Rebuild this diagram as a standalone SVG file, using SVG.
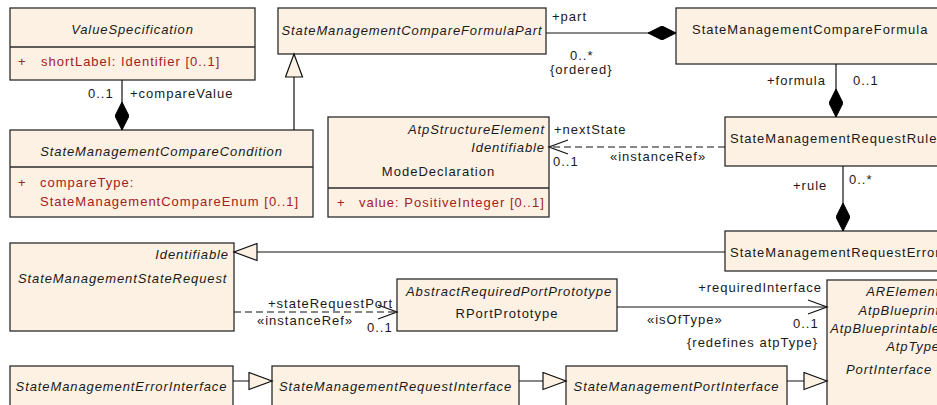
<svg xmlns="http://www.w3.org/2000/svg" width="937" height="405" viewBox="0 0 937 405">
<style>
.box{fill:#fcf1e3;stroke:#2b2b2b;stroke-width:1.3}
.sep{stroke:#2b2b2b;stroke-width:1.3}
.t{font-family:"Liberation Sans",Arial,sans-serif;font-size:13px;letter-spacing:1px;fill:#1a1a1a}
.i{font-style:italic;letter-spacing:0.9px}
.a{fill:#a5201d}
.m{text-anchor:middle}
.e{text-anchor:end}
.ln{stroke:#111;stroke-width:1.2;fill:none}
.dash{stroke-dasharray:7 4}
</style>
<defs>
<marker id="diamond" markerUnits="userSpaceOnUse" viewBox="0 0 28 14" refX="28" refY="7" markerWidth="28" markerHeight="14" orient="auto">
<path d="M0,7 L14,0 L28,7 L14,14 Z" fill="#000" stroke="#000" stroke-width="1"/>
</marker>
<marker id="open" markerUnits="userSpaceOnUse" viewBox="-1 -1 22 16" refX="19" refY="7" markerWidth="22" markerHeight="16" orient="auto">
<path d="M0,0 L19,7 L0,14" fill="none" stroke="#111" stroke-width="1.2"/>
</marker>
<marker id="tri" markerUnits="userSpaceOnUse" viewBox="-1 -1 26 19" refX="23" refY="8.5" markerWidth="26" markerHeight="19" orient="auto">
<path d="M0,0 L23,8.5 L0,17 Z" fill="#fcf1e3" stroke="#111" stroke-width="1.2"/>
</marker>
</defs>

<g id="ValueSpecification">
<rect class="box" x="10" y="8" width="245" height="72"/>
<line class="sep" x1="10" y1="47" x2="255" y2="47"/>
<text class="t i m" x="132.5" y="34">ValueSpecification</text>
<text class="t a" x="18" y="66">+</text>
<text class="t a" x="41" y="66">shortLabel: Identifier [0..1]</text>
</g>

<g id="StateManagementCompareFormulaPart">
<rect class="box" x="278" y="8" width="268" height="46"/>
<text class="t i m" x="412" y="35">StateManagementCompareFormulaPart</text>
</g>

<g id="StateManagementCompareFormula">
<rect class="box" x="676" y="8" width="280" height="56"/>
<text class="t" x="692" y="34">StateManagementCompareFormula</text>
</g>

<g id="StateManagementCompareCondition">
<rect class="box" x="10" y="130" width="303" height="87"/>
<line class="sep" x1="10" y1="167" x2="313" y2="167"/>
<text class="t i m" x="161.5" y="156">StateManagementCompareCondition</text>
<text class="t a" x="18" y="187">+</text>
<text class="t a" x="40" y="187">compareType:</text>
<text class="t a" x="40" y="206">StateManagementCompareEnum [0..1]</text>
</g>

<g id="ModeDeclaration">
<rect class="box" x="328" y="117" width="221" height="100"/>
<line class="sep" x1="328" y1="188" x2="549" y2="188"/>
<text class="t i e" x="545" y="134">AtpStructureElement</text>
<text class="t i e" x="545" y="152">Identifiable</text>
<text class="t m" x="438.5" y="176">ModeDeclaration</text>
<text class="t a" x="337" y="207">+</text>
<text class="t a" x="359" y="207">value: PositiveInteger [0..1]</text>
</g>

<g id="StateManagementRequestRule">
<rect class="box" x="725" y="117" width="230" height="49"/>
<text class="t" x="730" y="143">StateManagementRequestRule</text>
</g>

<g id="StateManagementRequestError">
<rect class="box" x="725" y="231" width="230" height="40"/>
<text class="t" x="730" y="257">StateManagementRequestError</text>
</g>

<g id="StateManagementStateRequest">
<rect class="box" x="10" y="243" width="224" height="88"/>
<text class="t i e" x="229" y="259">Identifiable</text>
<text class="t i" x="18" y="283">StateManagementStateRequest</text>
</g>

<g id="RPortPrototype">
<rect class="box" x="397" y="279" width="220" height="52"/>
<text class="t i m" x="509" y="296">AbstractRequiredPortPrototype</text>
<text class="t m" x="507" y="318">RPortPrototype</text>
</g>

<g id="PortInterface">
<rect class="box" x="827" y="280" width="130" height="140"/>
<text class="t i e" x="940" y="296">ARElement</text>
<text class="t i e" x="940" y="315">AtpBlueprint</text>
<text class="t i e" x="940" y="333">AtpBlueprintable</text>
<text class="t i e" x="940" y="351">AtpType</text>
<text class="t i" x="846" y="374">PortInterface</text>
</g>

<g id="StateManagementErrorInterface">
<rect class="box" x="10" y="366" width="223" height="50"/>
<text class="t i m" x="121.5" y="391">StateManagementErrorInterface</text>
</g>

<g id="StateManagementRequestInterface">
<rect class="box" x="272" y="366" width="247" height="50"/>
<text class="t i m" x="395.5" y="391">StateManagementRequestInterface</text>
</g>

<g id="StateManagementPortInterface">
<rect class="box" x="566" y="366" width="221" height="50"/>
<text class="t i m" x="676.5" y="391">StateManagementPortInterface</text>
</g>

<g id="connectors">
<path class="ln" d="M122,80 L122,130" marker-end="url(#diamond)"/>
<text class="t" x="88" y="98">0..1</text>
<text class="t" x="130" y="98">+compareValue</text>

<path class="ln" d="M294,130 L294,54" marker-end="url(#tri)"/>

<path class="ln" d="M546,33 L676,33" marker-end="url(#diamond)"/>
<text class="t" x="552" y="21">+part</text>
<text class="t" x="570" y="60">0..*</text>
<text class="t" x="550" y="74">{ordered}</text>

<path class="ln" d="M836,64 L836,117" marker-end="url(#diamond)"/>
<text class="t" x="767" y="85">+formula</text>
<text class="t" x="853" y="85">0..1</text>

<path class="ln dash" d="M725,147 L549,147" marker-end="url(#open)"/>
<text class="t" x="554" y="134">+nextState</text>
<text class="t" x="553" y="166">0..1</text>
<text class="t" x="610" y="161">«instanceRef»</text>

<path class="ln" d="M843,166 L843,231" marker-end="url(#diamond)"/>
<text class="t" x="793" y="190">+rule</text>
<text class="t" x="849" y="184">0..*</text>

<path class="ln" d="M725,252 L234,252" marker-end="url(#tri)"/>

<path class="ln dash" d="M234,312 L397,312" marker-end="url(#open)"/>
<text class="t e" x="393" y="308">+stateRequestPort</text>
<text class="t" x="257" y="325">«instanceRef»</text>
<text class="t" x="367" y="332">0..1</text>

<path class="ln" d="M617,307 L827,307" marker-end="url(#open)"/>
<text class="t e" x="822" y="292">+requiredInterface</text>
<text class="t" x="647" y="324">«isOfType»</text>
<text class="t" x="793" y="328">0..1</text>
<text class="t e" x="818" y="347">{redefines atpType}</text>

<path class="ln" d="M233,381 L272,381" marker-end="url(#tri)"/>
<path class="ln" d="M519,381 L566,381" marker-end="url(#tri)"/>
<path class="ln" d="M787,381 L827,381" marker-end="url(#tri)"/>
</g>
</svg>
